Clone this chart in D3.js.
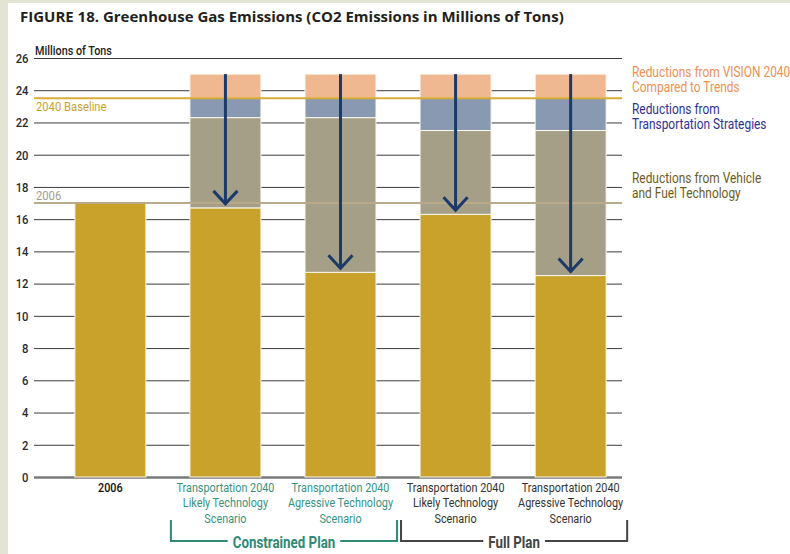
<!DOCTYPE html>
<html>
<head>
<meta charset="utf-8">
<script src="https://cdn.jsdelivr.net/npm/d3@7"></script>
<style>
  body { margin: 0; background: #fff; }
  svg { display: block; }
</style>
</head>
<body>
<div id="chart"></div>
<script>
// chart values (millions of tons)
var categories = ["2006", "T2040 Likely C", "T2040 Agressive C", "T2040 Likely F", "T2040 Agressive F"];
var categoryLabels = [
  ["2006"],
  ["Transportation 2040", "Likely Technology", "Scenario"],
  ["Transportation 2040", "Agressive Technology", "Scenario"],
  ["Transportation 2040", "Likely Technology", "Scenario"],
  ["Transportation 2040", "Agressive Technology", "Scenario"]
];
var remaining = [17.0, 16.7, 12.7, 16.3, 12.5];
var vehicleReduction = [0, 5.6, 9.6, 5.2, 9.0];
var strategyReduction = [0, 1.2, 1.2, 2.0, 2.0];
var visionReduction = [0, 1.5, 1.5, 1.5, 1.5];
var yTicks = [0, 2, 4, 6, 8, 10, 12, 14, 16, 18, 20, 22, 24, 26];
var baseline2040 = 23.5;
var level2006 = 17.0;
var groups = [
  {name: "Constrained Plan", from: 1, to: 2},
  {name: "Full Plan", from: 3, to: 4}
];
var legendItems = [
  {key: "vision", lines: ["Reductions from VISION 2040", "Compared to Trends"]},
  {key: "strategy", lines: ["Reductions from", "Transportation Strategies"]},
  {key: "vehicle", lines: ["Reductions from Vehicle", "and Fuel Technology"]}
];

var W = 790, H = 554;
var font = "Roboto, 'Noto Sans', sans-serif";
var colors = {remaining: "#c9a22c", vehicle: "#a49f86", strategy: "#8899b1", vision: "#efb890"};
var textColors = {vision: "#f08f52", strategy: "#2e3192", vehicle: "#6e5c1c"};

var svg = d3.select("#chart").append("svg")
  .attr("width", W).attr("height", H);

// page frame
svg.append("rect").attr("width", W).attr("height", H).attr("fill", "#e3e4d4");
svg.append("rect").attr("x", 8).attr("y", 3).attr("width", W - 8).attr("height", H - 3).attr("fill", "#fff");

// the original uses a condensed face: squeeze a normal one horizontally
var probe = svg.append("text").style("font-family", font).style("font-size", "13px").text("Transportation 2040");
var sx = 98 / probe.node().getComputedTextLength();
probe.remove();

function narrowText(px, py, size, col) {
  return svg.append("text")
    .attr("transform", "translate(" + px + "," + py + ") scale(" + sx + ",1)")
    .style("font-family", font).style("font-size", size + "px")
    .attr("fill", col);
}

// title
svg.append("text")
  .attr("x", 20).attr("y", 22)
  .style("font", "bold 15px 'Open Sans', sans-serif")
  .attr("fill", "#231f20")
  .text("FIGURE 18. Greenhouse Gas Emissions (CO2 Emissions in Millions of Tons)");

var x = d3.scaleBand()
  .domain(categories)
  .range([53, 628])
  .paddingInner(0.383)
  .paddingOuter(0.19);

var y = d3.scaleLinear()
  .domain([0, 26])
  .range([477, 58]);

var gridLeft = 34, gridRight = 622;

// grid + y axis
var yAxis = svg.append("g")
  .attr("transform", "translate(" + gridLeft + ",0)")
  .call(d3.axisLeft(y).tickValues(yTicks).tickSize(-(gridRight - gridLeft)).tickPadding(3));
yAxis.select(".domain").remove();
yAxis.selectAll(".tick line").attr("stroke", "#3c3c3c").attr("stroke-width", 1);
yAxis.selectAll(".tick text")
  .style("font-family", font).style("font-size", "13.5px").style("font-weight", "500").attr("fill", "#2a2a2a")
  .attr("transform", "translate(-3,0) scale(" + sx + ",1)");
yAxis.selectAll(".tick").filter(function(d) { return d === 0; }).select("line")
  .attr("stroke", "#7a7a7a").attr("stroke-width", 2.5);

narrowText(35, 55, 13, "#222").style("font-weight", "500").text("Millions of Tons");

// stacked bars
var table = categories.map(function(c, i) {
  return {cat: c, remaining: remaining[i], vehicle: vehicleReduction[i],
          strategy: strategyReduction[i], vision: visionReduction[i]};
});
var stack = d3.stack().keys(["remaining", "vehicle", "strategy", "vision"]);
var series = stack(table);

svg.append("g").selectAll("g")
  .data(series)
  .enter().append("g")
  .attr("fill", function(d) { return colors[d.key]; })
  .selectAll("rect")
  .data(function(d) { return d.filter(function(p) { return p[1] > p[0]; }); })
  .enter().append("rect")
  .attr("x", function(d) { return x(d.data.cat); })
  .attr("y", function(d) { return y(d[1]); })
  .attr("width", x.bandwidth())
  .attr("height", function(d) { return y(d[0]) - y(d[1]); })
  .attr("stroke", "#fbf8ee")
  .attr("stroke-width", 1);

// reference lines
svg.append("line")
  .attr("x1", gridLeft).attr("x2", gridRight)
  .attr("y1", y(baseline2040)).attr("y2", y(baseline2040))
  .attr("stroke", "#d8ac36").attr("stroke-width", 2);
narrowText(36, y(baseline2040) + 13, 13.5, "#c9a22c").text("2040 Baseline");

svg.append("line")
  .attr("x1", gridLeft).attr("x2", gridRight)
  .attr("y1", y(level2006)).attr("y2", y(level2006))
  .attr("stroke", "#b9aa8c").attr("stroke-width", 2);
narrowText(36, y(level2006) - 3, 13.5, "#a29c8c").text("2006");

// arrows
var arrows = svg.append("g").selectAll("g")
  .data(table.filter(function(d) { return d.vision > 0; }))
  .enter().append("g")
  .attr("stroke", "#1b3a68").attr("fill", "none").attr("stroke-width", 3);
arrows.append("line")
  .attr("x1", function(d) { return x(d.cat) + x.bandwidth() / 2; })
  .attr("x2", function(d) { return x(d.cat) + x.bandwidth() / 2; })
  .attr("y1", function(d) { return y(d.remaining + d.vehicle + d.strategy + d.vision); })
  .attr("y2", function(d) { return y(d.remaining) - 4; });
arrows.append("path")
  .attr("d", function(d) {
    var cx = x(d.cat) + x.bandwidth() / 2, ty = y(d.remaining) - 4;
    return "M" + (cx - 12) + "," + (ty - 13) + "L" + cx + "," + ty + "L" + (cx + 12) + "," + (ty - 13);
  });

// legend
var legendY = [77, 114, 183];
legendItems.forEach(function(item, i) {
  var t = narrowText(632, legendY[i], 14.3, textColors[item.key]);
  item.lines.forEach(function(l, j) {
    t.append("tspan").attr("x", 0).attr("dy", j === 0 ? 0 : 15.5).text(l);
  });
});

// category labels
categories.forEach(function(c, i) {
  var col = i === 0 ? "#111" : (i <= 2 ? "#35937f" : "#333");
  var t = narrowText(x(c) + x.bandwidth() / 2, 492, 13, col)
    .attr("text-anchor", "middle");
  if (i === 0) t.style("font-weight", "500");
  categoryLabels[i].forEach(function(l, j) {
    t.append("tspan").attr("x", 0).attr("dy", j === 0 ? 0 : 15.5).text(l);
  });
});

// group brackets
var step = x.step();
groups.forEach(function(g, i) {
  var col = i === 0 ? "#2f8a76" : "#444";
  var x0 = x(categories[g.from]) - (step - x.bandwidth()) / 2 + 3;
  var x1 = x(categories[g.to]) + x.bandwidth() + (step - x.bandwidth()) / 2 - 1;
  var cx = (x0 + x1) / 2;
  var lbl = narrowText(cx, 548, 16, col)
    .attr("text-anchor", "middle")
    .style("font-weight", "bold")
    .text(g.name);
  var w = lbl.node().getComputedTextLength() * sx;
  var ly = 541;
  svg.append("path")
    .attr("d", "M" + x0 + ",520V" + ly + "H" + (cx - w / 2 - 5))
    .attr("fill", "none").attr("stroke", col).attr("stroke-width", 2);
  svg.append("path")
    .attr("d", "M" + (cx + w / 2 + 5) + "," + ly + "H" + x1 + "V520")
    .attr("fill", "none").attr("stroke", col).attr("stroke-width", 2);
});
</script>
</body>
</html>
